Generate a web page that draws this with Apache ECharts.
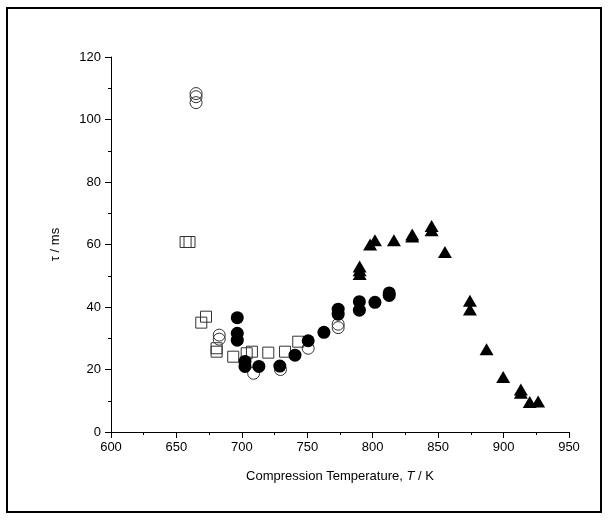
<!DOCTYPE html>
<html><head><meta charset="utf-8">
<script src="https://cdn.jsdelivr.net/npm/echarts@6/dist/echarts.min.js"></script>
<style>html,body{margin:0;padding:0;background:#fff}#c{width:608px;height:520px}</style>
</head><body><div id="c"></div>
<script>
// Open circles
const openCircleT = [665, 665, 665, 682.7, 682.7, 709, 729.5, 750.7, 773.6, 773.6];
const openCircleTau = [108.3, 107.3, 105.4, 31.0, 29.7, 18.8, 20.0, 26.8, 34.5, 33.4];
// Open squares
const openSquareT = [657, 660, 669, 672.6, 680.7, 680.7, 693.4, 703.7, 707.7, 720.2, 733, 743.1];
const openSquareTau = [60.8, 60.8, 35.0, 36.9, 26.8, 25.7, 24.1, 25.2, 25.7, 25.4, 25.7, 28.9];
// Filled circles
const filledCircleT = [696.5, 696.5, 696.5, 702.4, 702.4, 713, 729, 740.6, 750.7, 762.7, 773.6, 773.6, 789.8, 789.8, 801.7, 812.6, 812.6];
const filledCircleTau = [36.6, 31.6, 29.4, 22.6, 21.0, 21.0, 21.1, 24.6, 29.2, 31.9, 39.3, 37.7, 41.7, 39.0, 41.5, 44.5, 43.7];
// Filled triangles
const triangleT = [790, 790, 790, 798, 801.7, 816.2, 830.2, 830.2, 845, 845, 855.2, 874.3, 874.3, 887, 899.7, 913.2, 913.2, 920, 926.4];
const triangleTau = [53.0, 51.8, 50.6, 60.0, 61.4, 61.4, 63.2, 62.6, 65.9, 64.6, 57.6, 42.0, 39.2, 26.5, 17.6, 13.6, 12.6, 9.6, 9.8];

const xTicks = {min: 600, max: 950, step: 50};
const yTicks = {min: 0, max: 120, step: 20};

function pairs(a, b) { return a.map((v, i) => [v, b[i]]); }

const chart = echarts.init(document.getElementById('c'), null, {renderer: 'canvas'});
const font = 'Liberation Sans, Arial, sans-serif';
const axisCommon = {
  axisLine: {show: true, onZero: false, lineStyle: {color: '#000', width: 1}},
  axisTick: {show: true, inside: false, length: 6, lineStyle: {color: '#000'}},
  minorTick: {show: true, splitNumber: 2, length: 3, lineStyle: {color: '#000'}},
  splitLine: {show: false},
  axisLabel: {color: '#000', fontFamily: font, fontSize: 13}
};
chart.setOption({
  animation: false,
  backgroundColor: '#fff',
  grid: {left: 111, right: 39, top: 57, bottom: 88, containLabel: false},
  xAxis: Object.assign({}, axisCommon, {
    type: 'value', min: xTicks.min, max: xTicks.max, interval: xTicks.step,
    name: '{n|Compression Temperature, }{i|T}{n| / K}', nameLocation: 'middle', nameGap: 38,
    nameTextStyle: {rich: {n: {fontFamily: font, fontSize: 13, color: '#000'}, i: {fontFamily: font, fontSize: 13, fontStyle: 'italic', color: '#000'}}},
    axisLabel: Object.assign({}, axisCommon.axisLabel, {margin: 9})
  }),
  yAxis: Object.assign({}, axisCommon, {
    type: 'value', min: yTicks.min, max: yTicks.max, interval: yTicks.step,
    name: 'τ / ms', nameLocation: 'middle', nameGap: 49, nameRotate: 90,
    nameTextStyle: {fontFamily: font, fontSize: 13, color: '#000'},
    axisLabel: Object.assign({}, axisCommon.axisLabel, {margin: 10})
  }),
  series: [
    {type: 'scatter', data: pairs(openCircleT, openCircleTau), symbol: 'circle', symbolSize: 12,
     itemStyle: {color: 'rgba(255,255,255,0)', borderColor: '#333', borderWidth: 1, opacity: 1}},
    {type: 'scatter', data: pairs(openSquareT, openSquareTau), symbol: 'rect', symbolSize: 11,
     itemStyle: {color: 'rgba(255,255,255,0)', borderColor: '#333', borderWidth: 1, opacity: 1}},
    {type: 'scatter', data: pairs(filledCircleT, filledCircleTau), symbol: 'circle', symbolSize: 13,
     itemStyle: {color: '#000', borderWidth: 0, opacity: 1}},
    {type: 'scatter', data: pairs(triangleT, triangleTau), symbol: 'triangle', symbolSize: [14, 12],
     itemStyle: {color: '#000', borderWidth: 0, opacity: 1}}
  ],
  graphic: [{type: 'rect', shape: {x: 7, y: 8, width: 594, height: 504}, style: {fill: 'none', stroke: '#000', lineWidth: 2}, silent: true}]
});
</script></body></html>
